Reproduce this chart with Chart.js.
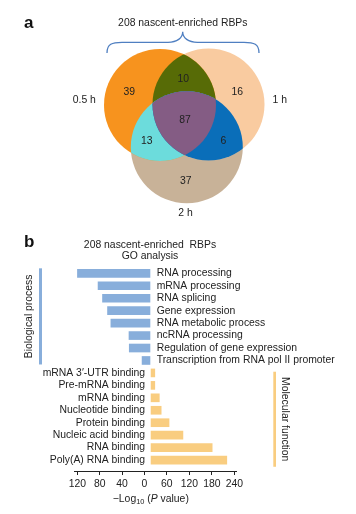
<!DOCTYPE html>
<html>
<head>
<meta charset="utf-8">
<title>Nascent-enriched RBPs</title>
<script src="https://cdn.jsdelivr.net/npm/chart.js@4.4.1/dist/chart.umd.min.js"></script>
<style>
  html, body { margin: 0; padding: 0; background: #ffffff; }
  #wrap { position: relative; width: 356px; height: 514px; overflow: hidden; background: #ffffff; }
  canvas { position: absolute; left: 0; }
  #venn { top: 0; width: 356px; height: 230px; }
  #go { top: 230px; width: 356px; height: 284px; }
</style>
</head>
<body>
<div id="wrap">
  <canvas id="venn" width="356" height="230"></canvas>
  <canvas id="go" width="356" height="284"></canvas>
</div>
<script>
// ---------------- Panel a: Venn diagram data ----------------
const vennSetLabels = ['0.5 h', '1 h', '2 h'];
const vennRegionNames = ['0.5 h only', '1 h only', '2 h only', '0.5 h & 1 h', '0.5 h & 2 h', '1 h & 2 h', '0.5 h & 1 h & 2 h'];
const vennRegionCounts = [39, 16, 37, 10, 13, 6, 87];
const vennTitle = '208 nascent-enriched RBPs';

// ---------------- Panel b: GO analysis data ----------------
const goTitle = ['208 nascent-enriched  RBPs', 'GO analysis'];
const bpGroupLabel = 'Biological process';
const mfGroupLabel = 'Molecular function';
const bpTerms = ['RNA processing', 'mRNA processing', 'RNA splicing', 'Gene expression', 'RNA metabolic process', 'ncRNA processing', 'Regulation of gene expression', 'Transcription from RNA pol II promoter'];
const bpValues = [120, 83, 75, 66, 60, 27.5, 27, 4];
const mfTerms = ['mRNA 3\u2032-UTR binding', 'Pre-mRNA binding', 'mRNA binding', 'Nucleotide binding', 'Protein binding', 'Nucleic acid binding', 'RNA binding', 'Poly(A) RNA binding'];
const mfValues = [28, 28, 40, 45, 66, 103, 181, 220];
const bpTicks = [0, 40, 80, 120];
const mfTicks = [0, 60, 120, 180, 240];

// ---------------- Styling / layout ----------------
const FONT = "'Liberation Sans', Arial, Helvetica, sans-serif";
const TXT = '#222222';
Chart.defaults.font.family = FONT;
Chart.defaults.color = TXT;

const vennColors = { sets: ['#F7931E', '#F9CBA0', '#C8B298'], ab: '#576B06', ac: '#6CDCDC', bc: '#0A6EB9', abc: '#845C84', brace: '#4F7FC1' };
const vennGeo = { cx: [160, 208.5, 186.8], cy: [105, 104.5, 147.3], r: 56 };
const vennCountAt = [[129.3, 92.3], [237.3, 92.3], [185.7, 180.7], [183.3, 79.3], [146.7, 140.7], [223.3, 140.7], [185, 120]];
const vennSetLabelAt = [[84.3, 100], [279.7, 100], [185.5, 212.7]];

const goColors = { bp: '#88AEDB', mf: '#F9CD80' };
const bpBase = -10.2;   // bars start slightly right of the axis zero, as drawn in the figure
const mfBase = 18;      // bars start slightly right of the axis zero, as drawn in the figure

// ---------------- Venn plugin ----------------
const vennPlugin = {
  id: 'vennDecor',
  afterDatasetsDraw(chart) {
    const { ctx, scales: { x, y } } = chart;
    const P = (a) => [x.getPixelForValue(a[0]), y.getPixelForValue(a[1])];
    const c = chart.data.datasets.map((d, i) => {
      const el = chart.getDatasetMeta(i).data[0];
      return { x: el.x, y: el.y, r: el.options.radius };
    });
    const path = (p) => { ctx.beginPath(); ctx.arc(p.x, p.y, p.r, 0, Math.PI * 2); };
    const inter = (ids, color) => {
      ctx.save();
      for (let k = 0; k < ids.length - 1; k++) { path(c[ids[k]]); ctx.clip(); }
      path(c[ids[ids.length - 1]]);
      ctx.fillStyle = color; ctx.fill();
      ctx.restore();
    };
    inter([0, 1], vennColors.ab);
    inter([0, 2], vennColors.ac);
    inter([1, 2], vennColors.bc);
    inter([0, 1, 2], vennColors.abc);

    ctx.save();
    ctx.fillStyle = TXT;
    ctx.font = `10.4px ${FONT}`;
    ctx.textAlign = 'center';
    ctx.textBaseline = 'middle';
    vennRegionCounts.forEach((v, i) => { const p = P(vennCountAt[i]); ctx.fillText(String(v), p[0], p[1]); });
    vennSetLabels.forEach((t, i) => { const p = P(vennSetLabelAt[i]); ctx.fillText(t, p[0], p[1]); });
    const tp = P([182.8, 23.5]);
    ctx.fillText(vennTitle, tp[0], tp[1]);

    // curly brace
    const B = (a, b) => P([a, b]);
    ctx.strokeStyle = vennColors.brace;
    ctx.lineWidth = 1.3;
    ctx.beginPath();
    let p = B(107, 53); ctx.moveTo(p[0], p[1]);
    let q1 = B(107, 44), q2 = B(112, 42.3), e = B(122, 42.3);
    ctx.bezierCurveTo(q1[0], q1[1], q2[0], q2[1], e[0], e[1]);
    e = B(168, 42.3); ctx.lineTo(e[0], e[1]);
    q1 = B(177, 42.3); q2 = B(182.7, 38); e = B(182.7, 31.7);
    ctx.bezierCurveTo(q1[0], q1[1], q2[0], q2[1], e[0], e[1]);
    q1 = B(182.7, 38); q2 = B(188.4, 42.3); e = B(197.4, 42.3);
    ctx.bezierCurveTo(q1[0], q1[1], q2[0], q2[1], e[0], e[1]);
    e = B(244, 42.3); ctx.lineTo(e[0], e[1]);
    q1 = B(254, 42.3); q2 = B(259, 44); e = B(259, 53);
    ctx.bezierCurveTo(q1[0], q1[1], q2[0], q2[1], e[0], e[1]);
    ctx.stroke();

    ctx.fillStyle = '#111';
    ctx.font = `bold 17px ${FONT}`;
    ctx.textAlign = 'left';
    ctx.textBaseline = 'alphabetic';
    ctx.fillText('a', 24, 28.3);
    ctx.restore();
  }
};

new Chart(document.getElementById('venn'), {
  type: 'bubble',
  data: {
    datasets: vennSetLabels.map((name, i) => ({
      label: name,
      data: [{ x: vennGeo.cx[i], y: vennGeo.cy[i], r: vennGeo.r }],
      backgroundColor: vennColors.sets[i],
      borderWidth: 0,
      hoverBorderWidth: 0,
      hoverRadius: 0,
      clip: false
    }))
  },
  options: {
    responsive: false, animation: false, devicePixelRatio: 1, events: [],
    layout: { padding: 0, autoPadding: false },
    scales: {
      x: { type: 'linear', min: 0, max: 356, display: false },
      y: { type: 'linear', min: 0, max: 230, reverse: true, display: false }
    },
    plugins: { legend: { display: false }, tooltip: { enabled: false } }
  },
  plugins: [vennPlugin]
});

// ---------------- GO plugin ----------------
const goPlugin = {
  id: 'goDecor',
  afterDraw(chart) {
    const { ctx, scales } = chart;
    const y = scales.y, xb = scales.xb, xo = scales.xo;
    ctx.save();
    ctx.fillStyle = '#111';
    ctx.font = `bold 17px ${FONT}`;
    ctx.textAlign = 'left';
    ctx.textBaseline = 'alphabetic';
    ctx.fillText('b', 24, 17.3);

    ctx.fillStyle = TXT;
    ctx.font = `10.4px ${FONT}`;
    ctx.textAlign = 'center';
    ctx.textBaseline = 'middle';
    goTitle.forEach((t, k) => ctx.fillText(t, 150, 15.5 + k * 11));

    const x0b = xb.getPixelForValue(bpBase);
    const x0o = xo.getPixelForValue(mfBase);
    ctx.textAlign = 'left';
    bpTerms.forEach((t, i) => ctx.fillText(t, x0b + 6.7, y.getPixelForValue(i)));
    ctx.textAlign = 'right';
    mfTerms.forEach((t, i) => ctx.fillText(t, x0o - 6, y.getPixelForValue(bpTerms.length + i)));

    // group bars
    const nB = bpTerms.length, nM = mfTerms.length;
    ctx.fillStyle = goColors.bp;
    let t0 = y.getPixelForValue(0) - 5, t1 = y.getPixelForValue(nB - 1) + 4;
    ctx.fillRect(39, t0, 3, t1 - t0);
    ctx.fillStyle = goColors.mf;
    let m0 = y.getPixelForValue(nB) - 1.2, m1 = y.getPixelForValue(nB + nM - 1) + 6.7;
    ctx.fillRect(273.3, m0, 2.7, m1 - m0);

    ctx.fillStyle = TXT;
    ctx.textAlign = 'center';
    ctx.save();
    ctx.translate(28.7, (t0 + t1) / 2);
    ctx.rotate(-Math.PI / 2);
    ctx.fillText(bpGroupLabel, 0, 0);
    ctx.restore();
    ctx.save();
    ctx.translate(285, (m0 + m1) / 2);
    ctx.rotate(Math.PI / 2);
    ctx.fillText(mfGroupLabel, 0, 0);
    ctx.restore();

    // x-axis title: −Log10 (P value)
    const parts = [
      { t: '\u2212Log', f: `10.4px ${FONT}`, dy: 0 },
      { t: '10', f: `7.4px ${FONT}`, dy: 3 },
      { t: ' (', f: `10.4px ${FONT}`, dy: 0 },
      { t: 'P', f: `italic 10.4px ${FONT}`, dy: 0 },
      { t: ' value)', f: `10.4px ${FONT}`, dy: 0 }
    ];
    let w = 0;
    parts.forEach(pt => { ctx.font = pt.f; pt.w = ctx.measureText(pt.t).width; w += pt.w; });
    let xx = 150.8 - w / 2;
    ctx.textAlign = 'left';
    parts.forEach(pt => { ctx.font = pt.f; ctx.fillText(pt.t, xx, 269.3 + pt.dy); xx += pt.w; });
    ctx.restore();
  }
};

const axisCommon = (ticksArr, weight, max, reverse) => ({
  type: 'linear', position: 'bottom', stack: 'go', stackWeight: weight,
  reverse: reverse, min: 0, max: max, offset: false,
  afterBuildTicks: s => { s.ticks = ticksArr.map(v => ({ value: v })); },
  ticks: { callback: (v) => (reverse && v === 0) ? '' : String(v), font: { size: 10.4 }, color: TXT, padding: 3, maxRotation: 0, autoSkip: false },
  grid: { drawOnChartArea: false, drawTicks: true, tickLength: 4, color: TXT, offset: false },
  border: { display: true, color: TXT, width: 1 }
});

new Chart(document.getElementById('go'), {
  type: 'bar',
  data: {
    datasets: [
      { label: bpGroupLabel, data: bpValues.map((v, i) => ({ x: v, y: i })), xAxisID: 'xb', yAxisID: 'y',
        backgroundColor: goColors.bp, base: bpBase, barThickness: 8, grouped: false, clip: false },
      { label: mfGroupLabel, data: mfValues.map((v, i) => ({ x: v, y: bpTerms.length + i })), xAxisID: 'xo', yAxisID: 'y',
        backgroundColor: goColors.mf, base: mfBase, barThickness: 8, grouped: false, clip: false }
    ]
  },
  options: {
    indexAxis: 'y', responsive: false, animation: false, devicePixelRatio: 1, events: [],
    layout: { padding: { left: 74, right: 119.3, top: 37.1, bottom: 20.5 } },
    scales: {
      y: { type: 'linear', display: false, reverse: true, min: -0.5, max: 15.88, offset: false, grid: { offset: false } },
      xb: axisCommon(bpTicks, 70.3, 126.2, true),
      xo: axisCommon(mfTicks, 92.4, 246.4, false)
    },
    plugins: { legend: { display: false }, tooltip: { enabled: false } }
  },
  plugins: [goPlugin]
});
</script>
</body>
</html>
